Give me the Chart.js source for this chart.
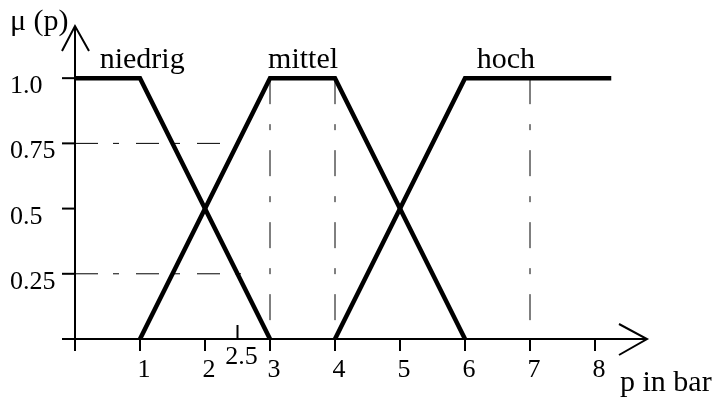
<!DOCTYPE html>
<html>
<head>
<meta charset="utf-8">
<script src="https://cdn.jsdelivr.net/npm/chart.js@4"></script>
<style>
  html, body { margin: 0; padding: 0; background: #fff; }
  canvas { display: block; }
</style>
</head>
<body>
<canvas id="fuzzyChart" width="715" height="398"></canvas>
<script>
// membership functions (p in bar -> mu)
var niedrigX = [0, 1, 3];
var niedrigY = [1, 1, 0];
var mittelX = [1, 3, 4, 6];
var mittelY = [0, 1, 1, 0];
var hochX = [4, 6, 8.25];
var hochY = [0, 1, 1];

// axis ticks
var xTicks = [1, 2, 2.5, 3, 4, 5, 6, 7, 8];
var xTickLabels = ['1', '2', '2.5', '3', '4', '5', '6', '7', '8'];
var yTicks = [0.25, 0.5, 0.75, 1.0];
var yTickLabels = ['0.25', '0.5', '0.75', '1.0'];

// helper lines (dash-dot)
var helpH075X = [0, 2.26];
var helpH025X = [0, 2.6];
var helpVX = [3, 4, 7];

// curve names
var curveNames = ['niedrig', 'mittel', 'hoch'];
var curveNameX = [0.38, 2.97, 6.18];
var curveNameY = 1.04;

function pts(xs, ys) {
  return xs.map(function (x, i) { return { x: x, y: ys[i] }; });
}

var SERIF = '"Liberation Serif", "Times New Roman", serif';

function thick(label, xs, ys) {
  return {
    label: label,
    data: pts(xs, ys),
    showLine: true,
    borderColor: '#000',
    borderWidth: 4.5,
    pointRadius: 0,
    borderJoinStyle: 'miter',
    clip: false
  };
}

function helper(label, data, dash) {
  return {
    label: label,
    data: data,
    showLine: true,
    borderColor: '#000',
    borderWidth: 1,
    borderDash: dash,
    pointRadius: 0,
    clip: false
  };
}

var hDash = [23, 15, 6, 17];
var vDash = [26, 20, 6, 20];

var datasets = [
  helper('h075', pts(helpH075X, [0.75, 0.75]), hDash),
  helper('h025', pts(helpH025X, [0.25, 0.25]), hDash)
];
helpVX.forEach(function (x) {
  datasets.push(helper('v' + x, pts([x, x], [1, 0]), vDash));
});
datasets.push(thick('niedrig', niedrigX, niedrigY));
datasets.push(thick('mittel', mittelX, mittelY));
datasets.push(thick('hoch', hochX, hochY));

// axes, arrows, tick marks and all texts
var axesPlugin = {
  id: 'fuzzyAxes',
  afterDatasetsDraw: function (chart) {
    var ctx = chart.ctx;
    var xs = chart.scales.x, ys = chart.scales.y;
    var x0 = xs.getPixelForValue(0), y0 = ys.getPixelForValue(0);
    var xEnd = xs.getPixelForValue(xs.max), yEnd = ys.getPixelForValue(ys.max);
    ctx.save();
    ctx.strokeStyle = '#000';
    ctx.fillStyle = '#000';
    ctx.lineWidth = 2;
    ctx.lineCap = 'butt';

    // axis lines
    ctx.beginPath();
    ctx.moveTo(x0 - 13, y0); ctx.lineTo(xEnd, y0);
    ctx.moveTo(x0, y0 + 12); ctx.lineTo(x0, yEnd);
    ctx.stroke();

    // arrow heads
    ctx.beginPath();
    ctx.moveTo(xEnd - 28, y0 - 15); ctx.lineTo(xEnd, y0); ctx.lineTo(xEnd - 28, y0 + 16);
    ctx.moveTo(x0 - 13, yEnd + 25); ctx.lineTo(x0, yEnd); ctx.lineTo(x0 + 14, yEnd + 25);
    ctx.stroke();

    // y ticks
    ctx.font = '26px ' + SERIF;
    ctx.textAlign = 'left';
    ctx.textBaseline = 'alphabetic';
    yTicks.forEach(function (v, i) {
      var py = ys.getPixelForValue(v);
      ctx.beginPath();
      ctx.moveTo(x0 - 13, py); ctx.lineTo(x0, py);
      ctx.stroke();
      ctx.fillText(yTickLabels[i], 10, py + 15);
    });

    // x ticks
    ctx.textAlign = 'center';
    xTicks.forEach(function (v, i) {
      var px = xs.getPixelForValue(v);
      var up = (v % 1 !== 0);
      ctx.beginPath();
      if (up) { ctx.moveTo(px, y0 - 14); ctx.lineTo(px, y0); }
      else { ctx.moveTo(px, y0); ctx.lineTo(px, y0 + 12); }
      ctx.stroke();
      if (up) ctx.fillText(xTickLabels[i], px + 4, y0 + 25);
      else ctx.fillText(xTickLabels[i], px + 4, y0 + 38);
    });

    // curve names
    ctx.font = '30px ' + SERIF;
    ctx.textAlign = 'left';
    curveNames.forEach(function (n, i) {
      ctx.fillText(n, xs.getPixelForValue(curveNameX[i]), ys.getPixelForValue(curveNameY));
    });

    // axis titles
    ctx.fillText('\u03bc (p)', 10, 30);
    ctx.fillText('p in bar', 620, 391);
    ctx.restore();
  }
};

new Chart(document.getElementById('fuzzyChart').getContext('2d'), {
  type: 'scatter',
  data: { datasets: datasets },
  options: {
    responsive: false,
    animation: false,
    devicePixelRatio: 1,
    layout: { padding: { left: 62, right: 68, top: 26, bottom: 59 } },
    plugins: {
      legend: { display: false },
      tooltip: { enabled: false }
    },
    scales: {
      x: { type: 'linear', min: -0.2, max: 8.8, display: false },
      y: { type: 'linear', min: 0, max: 1.2, display: false }
    }
  },
  plugins: [axesPlugin]
});
</script>
</body>
</html>
